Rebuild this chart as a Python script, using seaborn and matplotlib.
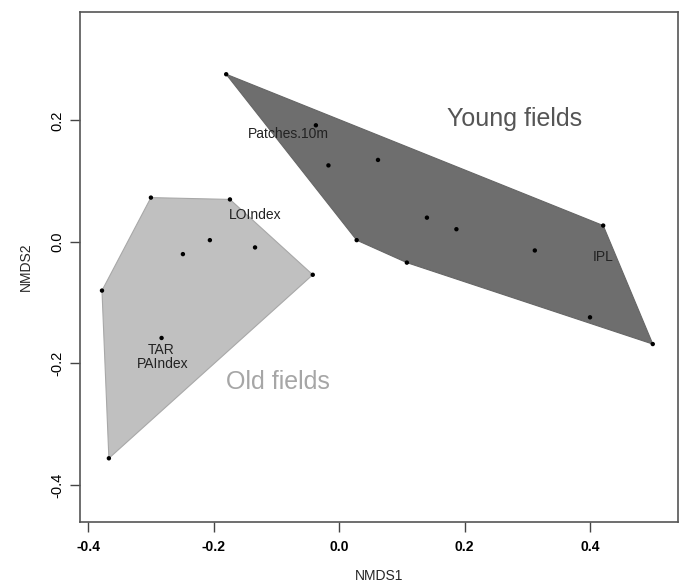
import numpy as np
import pandas as pd
import matplotlib
matplotlib.use('Agg')
import matplotlib.pyplot as plt
import seaborn as sns

# site scores (NMDS1, NMDS2)
old_x = [-0.300, -0.174, -0.206, -0.249, -0.134, -0.042, -0.378, -0.283, -0.367]
old_y = [0.073, 0.070, 0.003, -0.020, -0.009, -0.054, -0.080, -0.158, -0.356]
young_x = [-0.180, -0.037, -0.017, 0.062, 0.028, 0.108, 0.140, 0.187, 0.312, 0.421, 0.400, 0.500]
young_y = [0.276, 0.192, 0.126, 0.135, 0.003, -0.034, 0.040, 0.021, -0.014, 0.027, -0.124, -0.168]

# variable labels
var_names = ['Patches.10m', 'LOIndex', 'TAR', 'PAIndex', 'IPL']
var_x = [-0.081, -0.134, -0.283, -0.282, 0.421]
var_y = [0.178, 0.044, -0.178, -0.201, -0.024]

df = pd.DataFrame({
    'NMDS1': old_x + young_x,
    'NMDS2': old_y + young_y,
    'group': ['Old fields'] * len(old_x) + ['Young fields'] * len(young_x),
})


def hull(xs, ys):
    # monotone chain convex hull
    pts = sorted(zip(xs, ys))

    def cross(o, a, b):
        return (a[0] - o[0]) * (b[1] - o[1]) - (a[1] - o[1]) * (b[0] - o[0])

    lower, upper = [], []
    for p in pts:
        while len(lower) >= 2 and cross(lower[-2], lower[-1], p) <= 0:
            lower.pop()
        lower.append(p)
    for p in reversed(pts):
        while len(upper) >= 2 and cross(upper[-2], upper[-1], p) <= 0:
            upper.pop()
        upper.append(p)
    h = lower[:-1] + upper[:-1]
    return [p[0] for p in h], [p[1] for p in h]


sns.set_style('white')
plt.rcParams['font.family'] = ['Liberation Sans', 'DejaVu Sans']

fig = plt.figure(figsize=(6.84, 5.84), dpi=100)
ax = fig.add_axes([0.117, 0.106, 0.874, 0.873])

hx, hy = hull(old_x, old_y)
ax.fill(hx, hy, facecolor='#c0c0c0', edgecolor='#a8a8a8', lw=0.8, zorder=1)
hx, hy = hull(young_x, young_y)
ax.fill(hx, hy, facecolor='#6e6e6e', edgecolor='#666666', lw=0.8, zorder=1)

sns.scatterplot(data=df, x='NMDS1', y='NMDS2', color='black', s=10,
                edgecolor='none', legend=False, ax=ax, zorder=3)

for name, x, y in zip(var_names, var_x, var_y):
    ax.text(x, y, name, ha='center', va='center', fontsize=10, color='#222222', zorder=4)

ax.text(-0.098, -0.23, 'Old fields', ha='center', va='center', fontsize=18, color='#a6a6a6')
ax.text(0.280, 0.203, 'Young fields', ha='center', va='center', fontsize=18, color='#555555')

ax.set_xlim(-0.413, 0.54)
ax.set_ylim(-0.461, 0.378)
ax.set_xticks([-0.4, -0.2, 0.0, 0.2, 0.4])
ax.set_yticks([-0.4, -0.2, 0.0, 0.2])
ax.set_xticklabels(['-0.4', '-0.2', '0.0', '0.2', '0.4'], fontweight='bold')
ax.set_yticklabels(['-0.4', '-0.2', '0.0', '0.2'], rotation=90, va='center')
ax.tick_params(axis='both', direction='out', length=7.5, width=1, colors='#444444',
               labelcolor='black', labelsize=10, left=True, bottom=True)
ax.tick_params(axis='x', pad=5.5)
ax.tick_params(axis='y', pad=3.5, labelsize=10.5)
for sp in ax.spines.values():
    sp.set_color('#555555')
    sp.set_linewidth(1.2)

ax.set_xlabel('NMDS1', fontsize=10, labelpad=11)
ax.set_ylabel('NMDS2', fontsize=10, labelpad=13)

fig.savefig('out.png', dpi=100)
